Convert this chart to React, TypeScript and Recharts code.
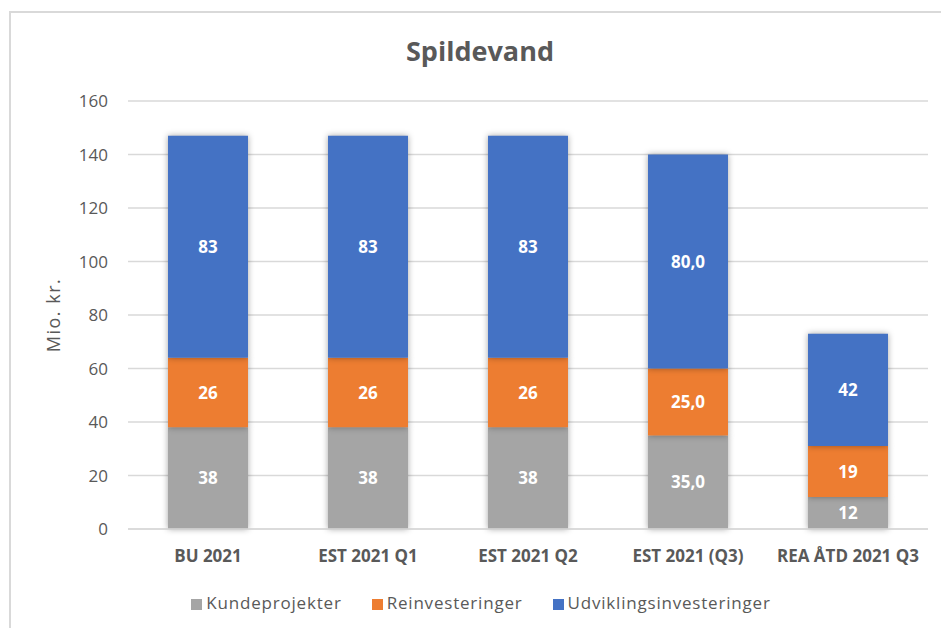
import {Bar, BarChart, CartesianGrid, LabelList, Legend, XAxis, YAxis} from 'recharts'

const categories = ['BU 2021', 'EST 2021 Q1', 'EST 2021 Q2', 'EST 2021 (Q3)', 'REA ÅTD 2021 Q3']
const kundeprojekter = [38, 38, 38, 35, 12]
const reinvesteringer = [26, 26, 26, 25, 19]
const udvikling = [83, 83, 83, 80, 42]
// decimals shown in the data labels per category (Excel used 0,0 for Q3)
const labelDecimals = [0, 0, 0, 1, 0]
const yTicks = [0, 20, 40, 60, 80, 100, 120, 140, 160]

const fmt = (v: number, d: number) => v.toFixed(d).replace('.', ',')

const data = categories.map((name, i) => ({
	name,
	kunde: kundeprojekter[i],
	rein: reinvesteringer[i],
	udv: udvikling[i],
	kundeLabel: fmt(kundeprojekter[i], labelDecimals[i]),
	reinLabel: fmt(reinvesteringer[i], labelDecimals[i]),
	udvLabel: fmt(udvikling[i], labelDecimals[i]),
}))

const FONT = "'Open Sans', 'Noto Sans', sans-serif"
const TEXT = '#595959'

export default function App() {
	return (
		<div style={{position: 'absolute', left: 0, top: 0, width: 941, height: 628, background: '#fff', overflow: 'hidden', fontFamily: FONT}}>
			<style>{`.recharts-bar-rectangle path { filter: drop-shadow(0 0 3px rgba(0,0,0,0.35)); }`}</style>
			<div style={{position: 'absolute', left: 9, top: 11, width: 960, height: 640, border: '2px solid #D9D9D9'}} />
			<div style={{position: 'absolute', left: 0, top: 32, width: 960, textAlign: 'center', fontSize: 27, fontWeight: 700, color: TEXT}}>
				Spildevand
			</div>
			<BarChart
				width={941}
				height={628}
				data={data}
				margin={{top: 101, right: 13, left: 68, bottom: 46}}
				barSize={80}
				style={{position: 'absolute', left: 0, top: 0}}
			>
				<CartesianGrid vertical={false} stroke='#D9D9D9' strokeWidth={1.5} />
				<XAxis
					dataKey='name'
					axisLine={{stroke: '#D9D9D9', strokeWidth: 1.5}}
					tickLine={false}
					tickMargin={15}
					tick={{fontSize: 17, fontWeight: 700, fill: TEXT, fontFamily: FONT}}
					interval={0}
				/>
				<YAxis
					width={60}
					domain={[0, 160]}
					ticks={yTicks}
					axisLine={false}
					tickLine={false}
					tickSize={0}
					tickMargin={20}
					tick={{fontSize: 17, fill: TEXT, fontFamily: FONT}}
					label={{value: 'Mio. kr.', angle: -90, position: 'insideLeft', offset: -14, style: {fill: TEXT, fontSize: 18, letterSpacing: 1.5, fontFamily: FONT, textAnchor: 'middle'}}}
				/>
				<Legend
					verticalAlign='bottom'
					iconType='square'
					iconSize={11}
					wrapperStyle={{bottom: 14, left: 0, width: 972, fontSize: 17, letterSpacing: 0.8, fontFamily: FONT}}
					formatter={(v: string, _e: unknown, i: number) => (
						<span style={{color: TEXT, paddingRight: i < 2 ? 20 : 0}}>{v}</span>
					)}
				/>
				<Bar dataKey='kunde' name='Kundeprojekter' stackId='a' fill='#A5A5A5' isAnimationActive={false}>
					<LabelList dataKey='kundeLabel' position='center' fill='#fff' fontSize={17} fontWeight={700} fontFamily={FONT} />
				</Bar>
				<Bar dataKey='rein' name='Reinvesteringer' stackId='a' fill='#ED7D31' isAnimationActive={false}>
					<LabelList dataKey='reinLabel' position='center' fill='#fff' fontSize={17} fontWeight={700} fontFamily={FONT} />
				</Bar>
				<Bar dataKey='udv' name='Udviklingsinvesteringer' stackId='a' fill='#4472C4' isAnimationActive={false}>
					<LabelList dataKey='udvLabel' position='center' fill='#fff' fontSize={17} fontWeight={700} fontFamily={FONT} />
				</Bar>
			</BarChart>
		</div>
	)
}
